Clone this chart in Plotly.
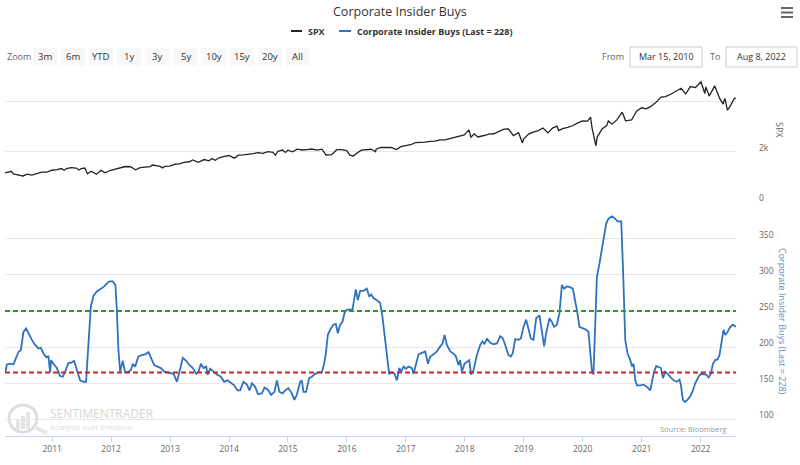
import plotly.graph_objects as go
import pandas as pd
from datetime import datetime

# ---------------- data ----------------
spx_dates = [
    "2010-03-15", "2010-03-31", "2010-04-23", "2010-05-07", "2010-05-31", "2010-06-30", "2010-07-02",
    "2010-07-31", "2010-08-27", "2010-09-30", "2010-10-29", "2010-11-30", "2010-12-31",
    "2011-01-31", "2011-02-28", "2011-03-16", "2011-03-31", "2011-04-29", "2011-05-31", "2011-06-16",
    "2011-06-30", "2011-07-22", "2011-08-08", "2011-08-31", "2011-09-22", "2011-10-03", "2011-10-31",
    "2011-11-25", "2011-12-30",
    "2012-01-31", "2012-02-29", "2012-03-30", "2012-04-30", "2012-06-01", "2012-06-29", "2012-07-31",
    "2012-08-31", "2012-09-14", "2012-10-31", "2012-11-15", "2012-11-30", "2012-12-31",
    "2013-01-31", "2013-02-28", "2013-03-28", "2013-04-30", "2013-05-21", "2013-06-24", "2013-07-31",
    "2013-08-30", "2013-09-18", "2013-10-08", "2013-10-31", "2013-11-29", "2013-12-31",
    "2014-02-03", "2014-02-28", "2014-03-31", "2014-04-30", "2014-05-30", "2014-06-30", "2014-07-31",
    "2014-08-29", "2014-09-30", "2014-10-15", "2014-10-31", "2014-11-28", "2014-12-16", "2014-12-31",
    "2015-01-30", "2015-02-27", "2015-03-31", "2015-04-30", "2015-05-29", "2015-06-30", "2015-07-31",
    "2015-08-25", "2015-09-29", "2015-10-30", "2015-11-30", "2015-12-31",
    "2016-01-20", "2016-02-11", "2016-02-29", "2016-03-31", "2016-04-29", "2016-05-31", "2016-06-27",
    "2016-06-30", "2016-07-29", "2016-08-31", "2016-09-30", "2016-11-04", "2016-11-30", "2016-12-30",
    "2017-01-31", "2017-02-28", "2017-03-31", "2017-04-28", "2017-05-31", "2017-06-30", "2017-07-31",
    "2017-08-31", "2017-09-29", "2017-10-31", "2017-11-30", "2017-12-29",
    "2018-01-26", "2018-02-08", "2018-02-28", "2018-03-23", "2018-04-30", "2018-05-31", "2018-06-29",
    "2018-07-31", "2018-08-31", "2018-09-28", "2018-10-29", "2018-11-30", "2018-12-24", "2018-12-31",
    "2019-01-31", "2019-02-28", "2019-03-29", "2019-04-30", "2019-05-31", "2019-06-28", "2019-07-26",
    "2019-08-05", "2019-08-30", "2019-09-30", "2019-10-31", "2019-11-29", "2019-12-31",
    "2020-01-31", "2020-02-19", "2020-02-28", "2020-03-23", "2020-03-31", "2020-04-30", "2020-05-29",
    "2020-06-08", "2020-06-30", "2020-07-31", "2020-09-02", "2020-09-23", "2020-10-30", "2020-11-30",
    "2020-12-31",
    "2021-01-29", "2021-02-26", "2021-03-31", "2021-04-30", "2021-05-28", "2021-06-30", "2021-07-30",
    "2021-08-31", "2021-09-02", "2021-09-30", "2021-10-29", "2021-11-30", "2021-12-31",
    "2022-01-03", "2022-01-27", "2022-02-02", "2022-02-23", "2022-03-29", "2022-04-29", "2022-05-20",
    "2022-05-31", "2022-06-16", "2022-06-30", "2022-07-29", "2022-08-08",
]
spx_values = [
    1150, 1169, 1217, 1111, 1089, 1031, 1022,
    1102, 1065, 1141, 1183, 1181, 1258,
    1286, 1327, 1257, 1326, 1364, 1345, 1268,
    1321, 1345, 1119, 1219, 1130, 1099, 1253,
    1159, 1258,
    1312, 1366, 1408, 1398, 1278, 1362, 1379,
    1407, 1466, 1412, 1353, 1416, 1426,
    1498, 1515, 1569, 1598, 1669, 1573, 1686,
    1633, 1725, 1656, 1757, 1806, 1848,
    1742, 1859, 1872, 1884, 1924, 1960, 1931,
    2003, 1972, 1862, 2018, 2068, 1973, 2059,
    1995, 2105, 2068, 2086, 2107, 2063, 2104,
    1867, 1884, 2079, 2080, 2044,
    1859, 1829, 1932, 2060, 2065, 2097, 2000,
    2099, 2174, 2171, 2168, 2085, 2199, 2239,
    2279, 2364, 2363, 2384, 2412, 2423, 2470,
    2472, 2519, 2575, 2648, 2674,
    2873, 2581, 2714, 2588, 2648, 2705, 2718,
    2816, 2902, 2914, 2641, 2760, 2351, 2507,
    2704, 2784, 2834, 2946, 2752, 2942, 3026,
    2845, 2926, 2977, 3038, 3141, 3231,
    3226, 3386, 2954, 2237, 2585, 2912, 3044,
    3232, 3100, 3271, 3580, 3237, 3270, 3622,
    3756,
    3714, 3811, 3973, 4181, 4204, 4298, 4395,
    4523, 4537, 4308, 4605, 4567, 4766,
    4797, 4327, 4589, 4225, 4632, 4132, 3901,
    4132, 3667, 3785, 4130, 4140,
]

# Corporate insider buys: time in decimal years, value
buys_time = [
    2010.203, 2010.232, 2010.288, 2010.344, 2010.372, 2010.428, 2010.469, 2010.513, 2010.559, 2010.598,
    2010.656, 2010.712, 2010.768, 2010.808, 2010.853, 2010.898, 2010.937, 2010.966, 2010.983, 2011.022,
    2011.080, 2011.136, 2011.182, 2011.221, 2011.277, 2011.334, 2011.373, 2011.429, 2011.475, 2011.531,
    2011.577, 2011.599, 2011.623, 2011.657, 2011.701, 2011.758, 2011.814, 2011.870, 2011.928, 2011.972,
    2012.030, 2012.074, 2012.098, 2012.125, 2012.154, 2012.199, 2012.238, 2012.295, 2012.335, 2012.369,
    2012.408, 2012.464, 2012.522, 2012.578, 2012.634, 2012.674, 2012.730, 2012.786, 2012.844, 2012.900,
    2012.973, 2013.058, 2013.116, 2013.160, 2013.217, 2013.273, 2013.329, 2013.387, 2013.443, 2013.482,
    2013.523, 2013.567, 2013.613, 2013.635, 2013.680, 2013.736, 2013.794, 2013.862, 2013.918, 2013.974,
    2014.032, 2014.088, 2014.144, 2014.189, 2014.245, 2014.303, 2014.347, 2014.388, 2014.444, 2014.490,
    2014.558, 2014.602, 2014.659, 2014.715, 2014.771, 2014.812, 2014.856, 2014.907, 2014.965, 2015.009,
    2015.066, 2015.110, 2015.151, 2015.207, 2015.236, 2015.263, 2015.309, 2015.360, 2015.406, 2015.462,
    2015.518, 2015.575, 2015.614, 2015.643, 2015.677, 2015.716, 2015.772, 2015.813, 2015.847, 2015.886,
    2015.925, 2015.959, 2016.000, 2016.055, 2016.095, 2016.152, 2016.186, 2016.225, 2016.281, 2016.339,
    2016.378, 2016.412, 2016.451, 2016.508, 2016.564, 2016.603, 2016.649, 2016.695, 2016.717, 2016.763,
    2016.807, 2016.848, 2016.887, 2016.921, 2016.960, 2017.000, 2017.045, 2017.102, 2017.129, 2017.170,
    2017.214, 2017.272, 2017.328, 2017.374, 2017.413, 2017.469, 2017.526, 2017.582, 2017.621, 2017.655,
    2017.696, 2017.752, 2017.808, 2017.849, 2017.893, 2017.921, 2017.950, 2017.994, 2018.035, 2018.074,
    2018.108, 2018.147, 2018.205, 2018.261, 2018.300, 2018.334, 2018.375, 2018.430, 2018.486, 2018.544,
    2018.600, 2018.646, 2018.685, 2018.741, 2018.782, 2018.815, 2018.855, 2018.911, 2018.951, 2018.996,
    2019.041, 2019.080, 2019.121, 2019.165, 2019.211, 2019.267, 2019.307, 2019.346, 2019.380, 2019.436,
    2019.477, 2019.516, 2019.562, 2019.606, 2019.647, 2019.686, 2019.731, 2019.787, 2019.833, 2019.872,
    2019.911, 2019.945, 2020.003, 2020.059, 2020.098, 2020.127, 2020.156, 2020.183, 2020.212, 2020.241,
    2020.285, 2020.326, 2020.364, 2020.398, 2020.437, 2020.495, 2020.551, 2020.590, 2020.624, 2020.653,
    2020.682, 2020.721, 2020.760, 2020.806, 2020.835, 2020.862, 2020.891, 2020.919, 2020.975, 2021.031,
    2021.089, 2021.145, 2021.174, 2021.201, 2021.247, 2021.285, 2021.326, 2021.360, 2021.399, 2021.438,
    2021.484, 2021.540, 2021.598, 2021.642, 2021.665, 2021.699, 2021.733, 2021.777, 2021.823, 2021.869,
    2021.908, 2021.964, 2022.005, 2022.049, 2022.095, 2022.134, 2022.174, 2022.208, 2022.247, 2022.287,
    2022.320, 2022.361, 2022.388, 2022.417, 2022.456, 2022.502, 2022.548, 2022.586, 2022.600,
]
buys_values = [
    164, 176, 177, 176, 182, 193, 196, 221, 226, 219,
    210, 203, 198, 199, 191, 186, 187, 165, 182, 177,
    171, 160, 159, 166, 178, 179, 181, 166, 154, 152,
    152, 182, 219, 256, 271, 277, 280, 283, 288, 291,
    291, 286, 252, 196, 166, 181, 165, 166, 168, 177,
    173, 187, 189, 190, 193, 185, 175, 173, 171, 166,
    165, 163, 152, 166, 185, 181, 175, 171, 163, 166,
    177, 171, 173, 162, 170, 166, 162, 159, 152, 154,
    150, 147, 140, 140, 152, 148, 140, 150, 145, 135,
    136, 144, 141, 134, 138, 154, 138, 136, 141, 143,
    136, 127, 134, 152, 154, 138, 138, 157, 159, 163,
    165, 165, 177, 191, 217, 224, 231, 232, 219, 231,
    235, 247, 252, 252, 252, 280, 265, 278, 278, 281,
    270, 273, 268, 265, 261, 242, 205, 177, 163, 165,
    163, 154, 171, 166, 173, 170, 173, 171, 163, 175,
    190, 192, 194, 177, 187, 190, 194, 201, 205, 217,
    203, 194, 191, 187, 175, 182, 166, 177, 180, 182,
    162, 168, 189, 203, 208, 204, 212, 206, 204, 205,
    215, 212, 203, 189, 187, 192, 211, 210, 212, 228,
    238, 226, 212, 210, 240, 244, 224, 201, 219, 240,
    235, 228, 231, 247, 286, 281, 284, 283, 281, 265,
    247, 228, 226, 224, 221, 191, 168, 162, 219, 297,
    316, 334, 353, 371, 378, 381, 378, 374, 374, 374,
    311, 210, 191, 182, 173, 177, 154, 147, 147, 148,
    145, 140, 152, 163, 174, 173, 171, 157, 166, 163,
    159, 154, 152, 155, 147, 127, 124, 127, 132, 140,
    150, 159, 163, 162, 162, 158, 163, 177, 182, 183,
    189, 210, 224, 217, 221, 228, 231, 229, 228,
]

upper_level = 250
lower_level = 165
x_start, x_end = "2010-03-15", "2022-08-08"
zoom_buttons = ["3m", "6m", "YTD", "1y", "3y", "5y", "10y", "15y", "20y", "All"]
spx_ticks = [0, 2000, 4000]
spx_ticktext = ["0", "2k", ""]
buys_ticks = [100, 150, 200, 250, 300, 350, 400]
buys_ticktext = ["100", "150", "200", "250", "300", "350", ""]


def dec_to_date(d):
    y = int(d)
    a = datetime(y, 1, 1)
    b = datetime(y + 1, 1, 1)
    return a + (b - a) * (d - y)


buys_dates = [dec_to_date(t) for t in buys_time]

# ---------------- geometry helpers ----------------
W, H = 800, 465
L, R, T, B = 5, 64, 76, 29
PW = W - L - R
PH = H - T - B


def px(x):
    return (x - L) / PW


def py(y):
    return (H - B - y) / PH


FONT = "Open Sans"
SPX_COLOR = "#222222"
BUYS_COLOR = "#2f72c0"

fig = go.Figure()
fig.add_trace(go.Scatter(x=pd.to_datetime(spx_dates), y=spx_values, mode="lines",
                         line=dict(color=SPX_COLOR, width=1.3), name="SPX",
                         xaxis="x", yaxis="y"))
fig.add_trace(go.Scatter(x=buys_dates, y=buys_values, mode="lines",
                         line=dict(color=BUYS_COLOR, width=1.8),
                         name="Corporate Insider Buys (Last = 228)",
                         xaxis="x", yaxis="y2"))

shapes = []
for lvl, col in [(upper_level, "#2e9a2e"), (lower_level, "#d02424")]:
    shapes.append(dict(type="line", xref="x domain", x0=0, x1=1, yref="y2", y0=lvl, y1=lvl,
                       line=dict(color=col, width=2, dash="5px,3px"), layer="above"))

annotations = []


def ann(text, x, y, size=9, color="#666666", xanchor="center", **kw):
    annotations.append(dict(text=text, x=px(x), y=py(y), xref="paper", yref="paper",
                            xanchor=xanchor, yanchor="middle", showarrow=False,
                            font=dict(family=FONT, size=size, color=color), **kw))


# title
ann("Corporate Insider Buys", 400, 12, size=12.5, color="#333333")

# legend
shapes.append(dict(type="line", xref="paper", yref="paper", x0=px(291), x1=px(302), y0=py(31), y1=py(31),
                   line=dict(color=SPX_COLOR, width=2)))
ann("<b>SPX</b>", 306, 31, size=9, color="#333333", xanchor="left")
shapes.append(dict(type="line", xref="paper", yref="paper", x0=px(339), x1=px(351), y0=py(31), y1=py(31),
                   line=dict(color=BUYS_COLOR, width=2)))
ann("<b>Corporate Insider Buys (Last = 228)</b>", 355, 31, size=9, color="#333333", xanchor="left")

# range selector look-alike
ann("Zoom", 19, 57, size=9, color="#666666")
for i, lab in enumerate(zoom_buttons):
    cx = 45 + 28.1 * i
    shapes.append(dict(type="rect", xref="paper", yref="paper", x0=px(cx - 12), x1=px(cx + 12),
                       y0=py(66), y1=py(48), fillcolor="#f7f7f7", line=dict(width=0), layer="below"))
    ann(lab, cx, 57, size=9.5, color="#333333")

ann("From", 613, 57, size=9, color="#666666")
shapes.append(dict(type="rect", xref="paper", yref="paper", x0=px(630), x1=px(702), y0=py(67), y1=py(47),
                   line=dict(color="#cccccc", width=1), fillcolor="white"))
ann("Mar 15, 2010", 666, 57, size=9, color="#333333")
ann("To", 715, 57, size=9, color="#666666")
shapes.append(dict(type="rect", xref="paper", yref="paper", x0=px(726), x1=px(797), y0=py(67), y1=py(47),
                   line=dict(color="#cccccc", width=1), fillcolor="white"))
ann("Aug 8, 2022", 761.5, 57, size=9, color="#333333")

# hamburger menu
for yy in (8, 12.5, 17):
    shapes.append(dict(type="line", xref="paper", yref="paper", x0=px(781), x1=px(793), y0=py(yy), y1=py(yy),
                       line=dict(color="#666666", width=2)))

# axis titles
ann("SPX", 780, 130, size=9, color="#666666", textangle=90)
ann("Corporate Insider Buys (Last = 228)", 783, 321, size=9, color="#6a8bc6", textangle=90)

# watermark
shapes.append(dict(type="circle", xref="paper", yref="paper", x0=px(9), x1=px(37), y0=py(432), y1=py(405),
                   line=dict(color="#dedede", width=3)))
shapes.append(dict(type="line", xref="paper", yref="paper", x0=px(36), x1=px(47), y0=py(428), y1=py(433),
                   line=dict(color="#e2e6ee", width=4)))
for bx0, bx1, btop in [(16, 20, 420), (21, 25, 416), (26, 30, 412)]:
    shapes.append(dict(type="rect", xref="paper", yref="paper", x0=px(bx0), x1=px(bx1), y0=py(429),
                       y1=py(btop), fillcolor="#e4e4e4", line=dict(width=0)))
ann("SENTIMENTRADER", 48, 413, size=12, color="#d6d6d6", xanchor="left")
ann("Analysis over Emotion", 48, 426, size=8, color="#dedede", xanchor="left")

# source
ann("Source: Bloomberg", 729, 429, size=7.5, color="#999999", xanchor="right")

axis_font = dict(family=FONT, size=8.5, color="#666666")

fig.update_layout(
    width=W, height=H,
    margin=dict(l=L, r=R, t=T, b=B, pad=0),
    paper_bgcolor="white", plot_bgcolor="white",
    showlegend=False,
    font=dict(family=FONT, color="#333333"),
    xaxis=dict(domain=[0, 1], anchor="y2", range=[x_start, x_end], type="date",
               showgrid=False, showline=True, linecolor="#ccd6eb", linewidth=1,
               ticks="outside", ticklen=5, tickcolor="#ccd6eb",
               tick0="2011-01-01", dtick="M12", tickformat="%Y", tickfont=axis_font,
               zeroline=False),
    yaxis=dict(domain=[py(201.7), 1], anchor="x", side="right", range=[0, 5028],
               tickvals=spx_ticks, ticktext=spx_ticktext, showgrid=True, gridcolor="#e8e8e8",
               zeroline=False, showline=False, ticks="", ticklabelstandoff=22, ticklabelshift=-4,
               tickfont=axis_font),
    yaxis2=dict(domain=[0, py(202.7)], anchor="x", side="right", range=[76.9, 400],
                tickvals=buys_ticks, ticktext=buys_ticktext, showgrid=True, gridcolor="#e8e8e8",
                zeroline=False, showline=False, ticks="", ticklabelstandoff=22, ticklabelshift=-4,
                tickfont=axis_font),
    shapes=shapes,
    annotations=annotations,
)

fig.write_html("out.html",
               config={"displayModeBar": False},
               post_script="document.body.style.margin='0';document.body.style.padding='0';"
                           "document.body.style.overflow='hidden';")
